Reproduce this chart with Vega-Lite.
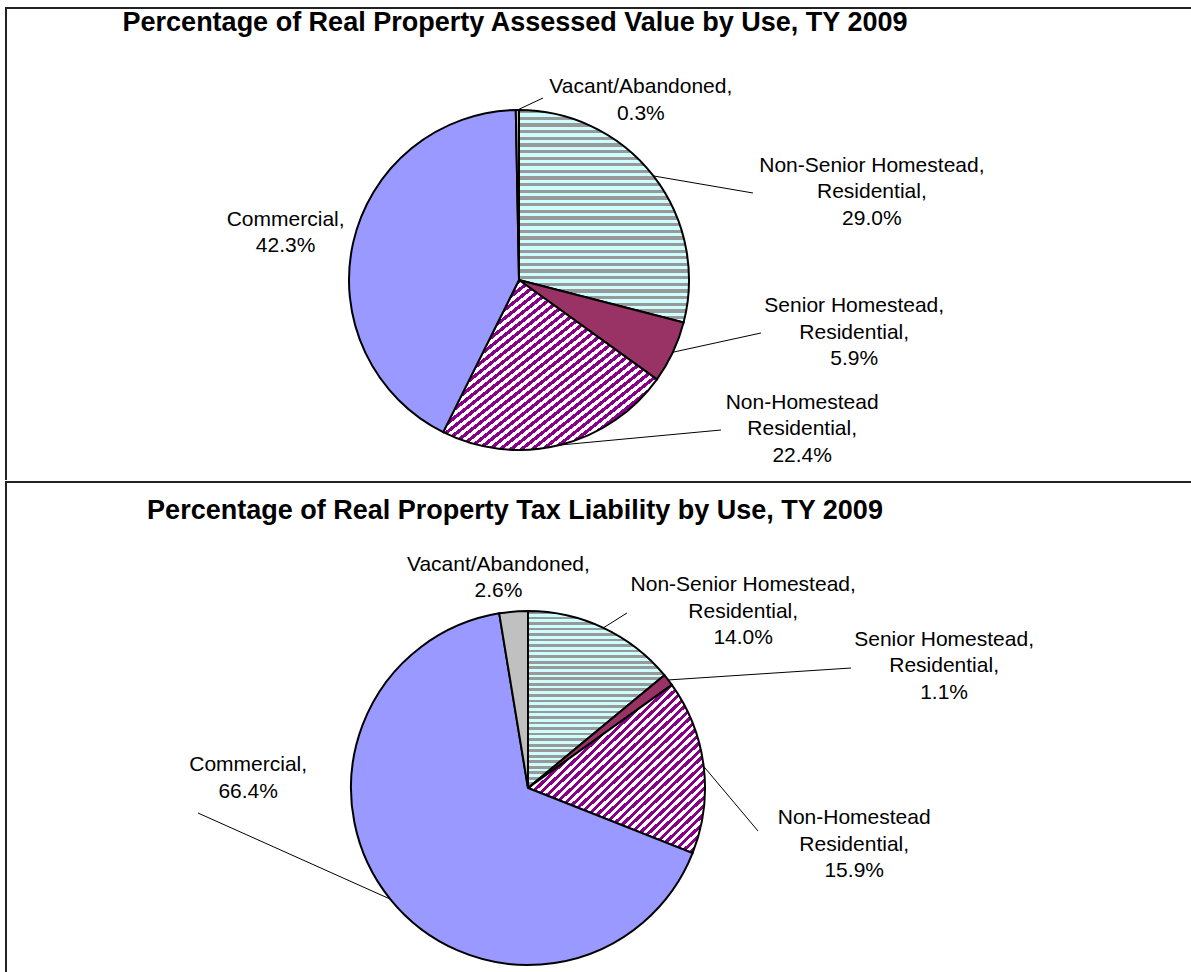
{
"$schema": "https://vega.github.io/schema/vega-lite/v6.json",
"padding": {"left": 5, "top": 7, "right": 0, "bottom": 0},
"background": "white",
"spacing": 0,
"config": {"font": "Liberation Sans", "view": {"stroke": null}},
"datasets": {
"assessed": [
{"order": 1, "cat": "Non-Senior Homestead", "label": "Non-Senior Homestead,|Residential,", "pct": 29.0},
{"order": 2, "cat": "Senior Homestead", "label": "Senior Homestead,|Residential,", "pct": 5.9},
{"order": 3, "cat": "Non-Homestead", "label": "Non-Homestead|Residential,", "pct": 22.4},
{"order": 4, "cat": "Commercial", "label": "Commercial,", "pct": 42.3},
{"order": 5, "cat": "Vacant/Abandoned", "label": "Vacant/Abandoned,", "pct": 0.3}
],
"liability": [
{"order": 1, "cat": "Non-Senior Homestead", "label": "Non-Senior Homestead,|Residential,", "pct": 14.0},
{"order": 2, "cat": "Senior Homestead", "label": "Senior Homestead,|Residential,", "pct": 1.1},
{"order": 3, "cat": "Non-Homestead", "label": "Non-Homestead|Residential,", "pct": 15.9},
{"order": 4, "cat": "Commercial", "label": "Commercial,", "pct": 66.4},
{"order": 5, "cat": "Vacant/Abandoned", "label": "Vacant/Abandoned,", "pct": 2.6}
]
},
"vconcat": [
{
"data": {"name": "assessed"},
"width": 1186,
"height": 472,
"view": {"stroke": "#222", "strokeWidth": 2, "strokeDash": [1186, 1658, 472]},
"transform": [
{"stack": "pct", "groupby": [], "sort": [{"field": "order", "order": "ascending"}], "as": ["s0", "s1"], "offset": "normalize"},
{"calculate": "(datum.s0 + datum.s1) / 2", "as": "mid"},
{"calculate": "datum.label + '|' + format(datum.pct, '.1f') + '%'", "as": "txt"}
],
"layer": [
{
"mark": {"type": "arc", "radius": 170, "stroke": "black", "strokeWidth": 2},
"encoding": {
"x": {"value": 513},
"y": {"value": 272},
"theta": {"field": "s0", "type": "quantitative", "scale": {"domain": [0, 1]}},
"theta2": {"field": "s1"},
"fill": {
"field": "cat", "type": "nominal", "legend": null,
"scale": {"domain": ["Non-Senior Homestead", "Senior Homestead", "Non-Homestead", "Commercial", "Vacant/Abandoned"], "range": ["#ccffff", "#993366", "#880088", "#9999ff", "#c0c0c0"]},
"condition": [
{"test": "datum.cat === 'Non-Senior Homestead'", "value": {"gradient": "linear", "x1": 0, "y1": 0, "x2": 0, "y2": 1, "stops": [
{"offset":0,"color":"#999"},{"offset":0.0156,"color":"#999"},{"offset":0.0156,"color":"#cff"},{"offset":0.0313,"color":"#cff"},
{"offset":0.0313,"color":"#999"},{"offset":0.0469,"color":"#999"},{"offset":0.0469,"color":"#cff"},{"offset":0.0625,"color":"#cff"},
{"offset":0.0625,"color":"#999"},{"offset":0.0781,"color":"#999"},{"offset":0.0781,"color":"#cff"},{"offset":0.0938,"color":"#cff"},
{"offset":0.0938,"color":"#999"},{"offset":0.1094,"color":"#999"},{"offset":0.1094,"color":"#cff"},{"offset":0.125,"color":"#cff"},
{"offset":0.125,"color":"#999"},{"offset":0.1406,"color":"#999"},{"offset":0.1406,"color":"#cff"},{"offset":0.1563,"color":"#cff"},
{"offset":0.1563,"color":"#999"},{"offset":0.1719,"color":"#999"},{"offset":0.1719,"color":"#cff"},{"offset":0.1875,"color":"#cff"},
{"offset":0.1875,"color":"#999"},{"offset":0.2031,"color":"#999"},{"offset":0.2031,"color":"#cff"},{"offset":0.2188,"color":"#cff"},
{"offset":0.2188,"color":"#999"},{"offset":0.2344,"color":"#999"},{"offset":0.2344,"color":"#cff"},{"offset":0.25,"color":"#cff"},
{"offset":0.25,"color":"#999"},{"offset":0.2656,"color":"#999"},{"offset":0.2656,"color":"#cff"},{"offset":0.2813,"color":"#cff"},
{"offset":0.2813,"color":"#999"},{"offset":0.2969,"color":"#999"},{"offset":0.2969,"color":"#cff"},{"offset":0.3125,"color":"#cff"},
{"offset":0.3125,"color":"#999"},{"offset":0.3281,"color":"#999"},{"offset":0.3281,"color":"#cff"},{"offset":0.3438,"color":"#cff"},
{"offset":0.3438,"color":"#999"},{"offset":0.3594,"color":"#999"},{"offset":0.3594,"color":"#cff"},{"offset":0.375,"color":"#cff"},
{"offset":0.375,"color":"#999"},{"offset":0.3906,"color":"#999"},{"offset":0.3906,"color":"#cff"},{"offset":0.4063,"color":"#cff"},
{"offset":0.4063,"color":"#999"},{"offset":0.4219,"color":"#999"},{"offset":0.4219,"color":"#cff"},{"offset":0.4375,"color":"#cff"},
{"offset":0.4375,"color":"#999"},{"offset":0.4531,"color":"#999"},{"offset":0.4531,"color":"#cff"},{"offset":0.4688,"color":"#cff"},
{"offset":0.4688,"color":"#999"},{"offset":0.4844,"color":"#999"},{"offset":0.4844,"color":"#cff"},{"offset":0.5,"color":"#cff"},
{"offset":0.5,"color":"#999"},{"offset":0.5156,"color":"#999"},{"offset":0.5156,"color":"#cff"},{"offset":0.5313,"color":"#cff"},
{"offset":0.5313,"color":"#999"},{"offset":0.5469,"color":"#999"},{"offset":0.5469,"color":"#cff"},{"offset":0.5625,"color":"#cff"},
{"offset":0.5625,"color":"#999"},{"offset":0.5781,"color":"#999"},{"offset":0.5781,"color":"#cff"},{"offset":0.5938,"color":"#cff"},
{"offset":0.5938,"color":"#999"},{"offset":0.6094,"color":"#999"},{"offset":0.6094,"color":"#cff"},{"offset":0.625,"color":"#cff"},
{"offset":0.625,"color":"#999"},{"offset":0.6406,"color":"#999"},{"offset":0.6406,"color":"#cff"},{"offset":0.6563,"color":"#cff"},
{"offset":0.6563,"color":"#999"},{"offset":0.6719,"color":"#999"},{"offset":0.6719,"color":"#cff"},{"offset":0.6875,"color":"#cff"},
{"offset":0.6875,"color":"#999"},{"offset":0.7031,"color":"#999"},{"offset":0.7031,"color":"#cff"},{"offset":0.7188,"color":"#cff"},
{"offset":0.7188,"color":"#999"},{"offset":0.7344,"color":"#999"},{"offset":0.7344,"color":"#cff"},{"offset":0.75,"color":"#cff"},
{"offset":0.75,"color":"#999"},{"offset":0.7656,"color":"#999"},{"offset":0.7656,"color":"#cff"},{"offset":0.7813,"color":"#cff"},
{"offset":0.7813,"color":"#999"},{"offset":0.7969,"color":"#999"},{"offset":0.7969,"color":"#cff"},{"offset":0.8125,"color":"#cff"},
{"offset":0.8125,"color":"#999"},{"offset":0.8281,"color":"#999"},{"offset":0.8281,"color":"#cff"},{"offset":0.8438,"color":"#cff"},
{"offset":0.8438,"color":"#999"},{"offset":0.8594,"color":"#999"},{"offset":0.8594,"color":"#cff"},{"offset":0.875,"color":"#cff"},
{"offset":0.875,"color":"#999"},{"offset":0.8906,"color":"#999"},{"offset":0.8906,"color":"#cff"},{"offset":0.9063,"color":"#cff"},
{"offset":0.9063,"color":"#999"},{"offset":0.9219,"color":"#999"},{"offset":0.9219,"color":"#cff"},{"offset":0.9375,"color":"#cff"},
{"offset":0.9375,"color":"#999"},{"offset":0.9531,"color":"#999"},{"offset":0.9531,"color":"#cff"},{"offset":0.9688,"color":"#cff"},
{"offset":0.9688,"color":"#999"},{"offset":0.9844,"color":"#999"},{"offset":0.9844,"color":"#cff"},{"offset":1,"color":"#cff"}
]}},
{"test": "datum.cat === 'Non-Homestead'", "value": {"gradient": "linear", "x1": 0, "y1": 0, "x2": 1, "y2": 1, "stops": [
{"offset":0,"color":"#808"},{"offset":0.0125,"color":"#808"},{"offset":0.0125,"color":"#fff"},{"offset":0.025,"color":"#fff"},
{"offset":0.025,"color":"#808"},{"offset":0.0375,"color":"#808"},{"offset":0.0375,"color":"#fff"},{"offset":0.05,"color":"#fff"},
{"offset":0.05,"color":"#808"},{"offset":0.0625,"color":"#808"},{"offset":0.0625,"color":"#fff"},{"offset":0.075,"color":"#fff"},
{"offset":0.075,"color":"#808"},{"offset":0.0875,"color":"#808"},{"offset":0.0875,"color":"#fff"},{"offset":0.1,"color":"#fff"},
{"offset":0.1,"color":"#808"},{"offset":0.1125,"color":"#808"},{"offset":0.1125,"color":"#fff"},{"offset":0.125,"color":"#fff"},
{"offset":0.125,"color":"#808"},{"offset":0.1375,"color":"#808"},{"offset":0.1375,"color":"#fff"},{"offset":0.15,"color":"#fff"},
{"offset":0.15,"color":"#808"},{"offset":0.1625,"color":"#808"},{"offset":0.1625,"color":"#fff"},{"offset":0.175,"color":"#fff"},
{"offset":0.175,"color":"#808"},{"offset":0.1875,"color":"#808"},{"offset":0.1875,"color":"#fff"},{"offset":0.2,"color":"#fff"},
{"offset":0.2,"color":"#808"},{"offset":0.2125,"color":"#808"},{"offset":0.2125,"color":"#fff"},{"offset":0.225,"color":"#fff"},
{"offset":0.225,"color":"#808"},{"offset":0.2375,"color":"#808"},{"offset":0.2375,"color":"#fff"},{"offset":0.25,"color":"#fff"},
{"offset":0.25,"color":"#808"},{"offset":0.2625,"color":"#808"},{"offset":0.2625,"color":"#fff"},{"offset":0.275,"color":"#fff"},
{"offset":0.275,"color":"#808"},{"offset":0.2875,"color":"#808"},{"offset":0.2875,"color":"#fff"},{"offset":0.3,"color":"#fff"},
{"offset":0.3,"color":"#808"},{"offset":0.3125,"color":"#808"},{"offset":0.3125,"color":"#fff"},{"offset":0.325,"color":"#fff"},
{"offset":0.325,"color":"#808"},{"offset":0.3375,"color":"#808"},{"offset":0.3375,"color":"#fff"},{"offset":0.35,"color":"#fff"},
{"offset":0.35,"color":"#808"},{"offset":0.3625,"color":"#808"},{"offset":0.3625,"color":"#fff"},{"offset":0.375,"color":"#fff"},
{"offset":0.375,"color":"#808"},{"offset":0.3875,"color":"#808"},{"offset":0.3875,"color":"#fff"},{"offset":0.4,"color":"#fff"},
{"offset":0.4,"color":"#808"},{"offset":0.4125,"color":"#808"},{"offset":0.4125,"color":"#fff"},{"offset":0.425,"color":"#fff"},
{"offset":0.425,"color":"#808"},{"offset":0.4375,"color":"#808"},{"offset":0.4375,"color":"#fff"},{"offset":0.45,"color":"#fff"},
{"offset":0.45,"color":"#808"},{"offset":0.4625,"color":"#808"},{"offset":0.4625,"color":"#fff"},{"offset":0.475,"color":"#fff"},
{"offset":0.475,"color":"#808"},{"offset":0.4875,"color":"#808"},{"offset":0.4875,"color":"#fff"},{"offset":0.5,"color":"#fff"},
{"offset":0.5,"color":"#808"},{"offset":0.5125,"color":"#808"},{"offset":0.5125,"color":"#fff"},{"offset":0.525,"color":"#fff"},
{"offset":0.525,"color":"#808"},{"offset":0.5375,"color":"#808"},{"offset":0.5375,"color":"#fff"},{"offset":0.55,"color":"#fff"},
{"offset":0.55,"color":"#808"},{"offset":0.5625,"color":"#808"},{"offset":0.5625,"color":"#fff"},{"offset":0.575,"color":"#fff"},
{"offset":0.575,"color":"#808"},{"offset":0.5875,"color":"#808"},{"offset":0.5875,"color":"#fff"},{"offset":0.6,"color":"#fff"},
{"offset":0.6,"color":"#808"},{"offset":0.6125,"color":"#808"},{"offset":0.6125,"color":"#fff"},{"offset":0.625,"color":"#fff"},
{"offset":0.625,"color":"#808"},{"offset":0.6375,"color":"#808"},{"offset":0.6375,"color":"#fff"},{"offset":0.65,"color":"#fff"},
{"offset":0.65,"color":"#808"},{"offset":0.6625,"color":"#808"},{"offset":0.6625,"color":"#fff"},{"offset":0.675,"color":"#fff"},
{"offset":0.675,"color":"#808"},{"offset":0.6875,"color":"#808"},{"offset":0.6875,"color":"#fff"},{"offset":0.7,"color":"#fff"},
{"offset":0.7,"color":"#808"},{"offset":0.7125,"color":"#808"},{"offset":0.7125,"color":"#fff"},{"offset":0.725,"color":"#fff"},
{"offset":0.725,"color":"#808"},{"offset":0.7375,"color":"#808"},{"offset":0.7375,"color":"#fff"},{"offset":0.75,"color":"#fff"},
{"offset":0.75,"color":"#808"},{"offset":0.7625,"color":"#808"},{"offset":0.7625,"color":"#fff"},{"offset":0.775,"color":"#fff"},
{"offset":0.775,"color":"#808"},{"offset":0.7875,"color":"#808"},{"offset":0.7875,"color":"#fff"},{"offset":0.8,"color":"#fff"},
{"offset":0.8,"color":"#808"},{"offset":0.8125,"color":"#808"},{"offset":0.8125,"color":"#fff"},{"offset":0.825,"color":"#fff"},
{"offset":0.825,"color":"#808"},{"offset":0.8375,"color":"#808"},{"offset":0.8375,"color":"#fff"},{"offset":0.85,"color":"#fff"},
{"offset":0.85,"color":"#808"},{"offset":0.8625,"color":"#808"},{"offset":0.8625,"color":"#fff"},{"offset":0.875,"color":"#fff"},
{"offset":0.875,"color":"#808"},{"offset":0.8875,"color":"#808"},{"offset":0.8875,"color":"#fff"},{"offset":0.9,"color":"#fff"},
{"offset":0.9,"color":"#808"},{"offset":0.9125,"color":"#808"},{"offset":0.9125,"color":"#fff"},{"offset":0.925,"color":"#fff"},
{"offset":0.925,"color":"#808"},{"offset":0.9375,"color":"#808"},{"offset":0.9375,"color":"#fff"},{"offset":0.95,"color":"#fff"},
{"offset":0.95,"color":"#808"},{"offset":0.9625,"color":"#808"},{"offset":0.9625,"color":"#fff"},{"offset":0.975,"color":"#fff"},
{"offset":0.975,"color":"#808"},{"offset":0.9875,"color":"#808"},{"offset":0.9875,"color":"#fff"},{"offset":1,"color":"#fff"}
]}}
]
}
}
},
{
"transform": [
{"calculate": "513 + 170 * sin(2 * PI * datum.mid)", "as": "sx"},
{"calculate": "272 - 170 * cos(2 * PI * datum.mid)", "as": "sy"},
{"calculate": "datum.cat === 'Vacant/Abandoned' ? 537 : datum.cat === 'Non-Senior Homestead' ? 747 : datum.cat === 'Senior Homestead' ? 755 : datum.cat === 'Non-Homestead' ? 715 : null", "as": "ex"},
{"calculate": "datum.cat === 'Vacant/Abandoned' ? 90 : datum.cat === 'Non-Senior Homestead' ? 185 : datum.cat === 'Senior Homestead' ? 325 : datum.cat === 'Non-Homestead' ? 422 : null", "as": "ey"},
{"filter": "datum.ex != null"}
],
"mark": {"type": "rule", "color": "black", "strokeWidth": 1},
"encoding": {
"x": {"field": "sx", "type": "quantitative", "scale": null, "axis": null},
"y": {"field": "sy", "type": "quantitative", "scale": null, "axis": null},
"x2": {"field": "ex"},
"y2": {"field": "ey"}
}
},
{
"mark": {"type": "text", "font": "Liberation Sans", "fontSize": 21, "lineBreak": "|", "lineHeight": 26.5, "align": "center", "baseline": "middle", "color": "black",
"dx": {"expr": "datum.cat === 'Non-Senior Homestead' ? 171 : datum.cat === 'Senior Homestead' ? 127 : datum.cat === 'Non-Homestead' ? 228 : datum.cat === 'Commercial' ? -9 : 124"},
"dy": {"expr": "datum.cat === 'Non-Senior Homestead' ? 26.5 : datum.cat === 'Senior Homestead' ? -71.5 : datum.cat === 'Non-Homestead' ? -100.5 : datum.cat === 'Commercial' ? -9.5 : 37"}},
"encoding": {
"x": {"value": 513},
"y": {"value": 272},
"theta": {"field": "mid", "type": "quantitative", "stack": null, "scale": {"domain": [0, 1]}},
"radius": {"value": 230},
"text": {"field": "txt"}
}
},
{
"transform": [{"filter": "datum.order === 1"}],
"mark": {"type": "text", "font": "Liberation Sans", "fontSize": 27, "fontWeight": "bold", "align": "center", "baseline": "alphabetic", "color": "black"},
"encoding": {
"x": {"value": 509},
"y": {"value": 23},
"text": {"value": "Percentage of Real Property Assessed Value by Use, TY 2009"}
}
}
]
},
{
"data": {"name": "liability"},
"width": 1186,
"height": 493,
"view": {"stroke": "#222", "strokeWidth": 2, "strokeDash": [1186, 1679, 493]},
"transform": [
{"stack": "pct", "groupby": [], "sort": [{"field": "order", "order": "ascending"}], "as": ["s0", "s1"], "offset": "normalize"},
{"calculate": "(datum.s0 + datum.s1) / 2", "as": "mid"},
{"calculate": "datum.label + '|' + format(datum.pct, '.1f') + '%'", "as": "txt"}
],
"layer": [
{
"mark": {"type": "arc", "radius": 177, "stroke": "black", "strokeWidth": 2},
"encoding": {
"x": {"value": 522},
"y": {"value": 306},
"theta": {"field": "s0", "type": "quantitative", "scale": {"domain": [0, 1]}},
"theta2": {"field": "s1"},
"fill": {
"field": "cat", "type": "nominal", "legend": null,
"scale": {"domain": ["Non-Senior Homestead", "Senior Homestead", "Non-Homestead", "Commercial", "Vacant/Abandoned"], "range": ["#ccffff", "#993366", "#880088", "#9999ff", "#c0c0c0"]},
"condition": [
{"test": "datum.cat === 'Non-Senior Homestead'", "value": {"gradient": "linear", "x1": 0, "y1": 0, "x2": 0, "y2": 1, "stops": [
{"offset":0,"color":"#999"},{"offset":0.0156,"color":"#999"},{"offset":0.0156,"color":"#cff"},{"offset":0.0313,"color":"#cff"},
{"offset":0.0313,"color":"#999"},{"offset":0.0469,"color":"#999"},{"offset":0.0469,"color":"#cff"},{"offset":0.0625,"color":"#cff"},
{"offset":0.0625,"color":"#999"},{"offset":0.0781,"color":"#999"},{"offset":0.0781,"color":"#cff"},{"offset":0.0938,"color":"#cff"},
{"offset":0.0938,"color":"#999"},{"offset":0.1094,"color":"#999"},{"offset":0.1094,"color":"#cff"},{"offset":0.125,"color":"#cff"},
{"offset":0.125,"color":"#999"},{"offset":0.1406,"color":"#999"},{"offset":0.1406,"color":"#cff"},{"offset":0.1563,"color":"#cff"},
{"offset":0.1563,"color":"#999"},{"offset":0.1719,"color":"#999"},{"offset":0.1719,"color":"#cff"},{"offset":0.1875,"color":"#cff"},
{"offset":0.1875,"color":"#999"},{"offset":0.2031,"color":"#999"},{"offset":0.2031,"color":"#cff"},{"offset":0.2188,"color":"#cff"},
{"offset":0.2188,"color":"#999"},{"offset":0.2344,"color":"#999"},{"offset":0.2344,"color":"#cff"},{"offset":0.25,"color":"#cff"},
{"offset":0.25,"color":"#999"},{"offset":0.2656,"color":"#999"},{"offset":0.2656,"color":"#cff"},{"offset":0.2813,"color":"#cff"},
{"offset":0.2813,"color":"#999"},{"offset":0.2969,"color":"#999"},{"offset":0.2969,"color":"#cff"},{"offset":0.3125,"color":"#cff"},
{"offset":0.3125,"color":"#999"},{"offset":0.3281,"color":"#999"},{"offset":0.3281,"color":"#cff"},{"offset":0.3438,"color":"#cff"},
{"offset":0.3438,"color":"#999"},{"offset":0.3594,"color":"#999"},{"offset":0.3594,"color":"#cff"},{"offset":0.375,"color":"#cff"},
{"offset":0.375,"color":"#999"},{"offset":0.3906,"color":"#999"},{"offset":0.3906,"color":"#cff"},{"offset":0.4063,"color":"#cff"},
{"offset":0.4063,"color":"#999"},{"offset":0.4219,"color":"#999"},{"offset":0.4219,"color":"#cff"},{"offset":0.4375,"color":"#cff"},
{"offset":0.4375,"color":"#999"},{"offset":0.4531,"color":"#999"},{"offset":0.4531,"color":"#cff"},{"offset":0.4688,"color":"#cff"},
{"offset":0.4688,"color":"#999"},{"offset":0.4844,"color":"#999"},{"offset":0.4844,"color":"#cff"},{"offset":0.5,"color":"#cff"},
{"offset":0.5,"color":"#999"},{"offset":0.5156,"color":"#999"},{"offset":0.5156,"color":"#cff"},{"offset":0.5313,"color":"#cff"},
{"offset":0.5313,"color":"#999"},{"offset":0.5469,"color":"#999"},{"offset":0.5469,"color":"#cff"},{"offset":0.5625,"color":"#cff"},
{"offset":0.5625,"color":"#999"},{"offset":0.5781,"color":"#999"},{"offset":0.5781,"color":"#cff"},{"offset":0.5938,"color":"#cff"},
{"offset":0.5938,"color":"#999"},{"offset":0.6094,"color":"#999"},{"offset":0.6094,"color":"#cff"},{"offset":0.625,"color":"#cff"},
{"offset":0.625,"color":"#999"},{"offset":0.6406,"color":"#999"},{"offset":0.6406,"color":"#cff"},{"offset":0.6563,"color":"#cff"},
{"offset":0.6563,"color":"#999"},{"offset":0.6719,"color":"#999"},{"offset":0.6719,"color":"#cff"},{"offset":0.6875,"color":"#cff"},
{"offset":0.6875,"color":"#999"},{"offset":0.7031,"color":"#999"},{"offset":0.7031,"color":"#cff"},{"offset":0.7188,"color":"#cff"},
{"offset":0.7188,"color":"#999"},{"offset":0.7344,"color":"#999"},{"offset":0.7344,"color":"#cff"},{"offset":0.75,"color":"#cff"},
{"offset":0.75,"color":"#999"},{"offset":0.7656,"color":"#999"},{"offset":0.7656,"color":"#cff"},{"offset":0.7813,"color":"#cff"},
{"offset":0.7813,"color":"#999"},{"offset":0.7969,"color":"#999"},{"offset":0.7969,"color":"#cff"},{"offset":0.8125,"color":"#cff"},
{"offset":0.8125,"color":"#999"},{"offset":0.8281,"color":"#999"},{"offset":0.8281,"color":"#cff"},{"offset":0.8438,"color":"#cff"},
{"offset":0.8438,"color":"#999"},{"offset":0.8594,"color":"#999"},{"offset":0.8594,"color":"#cff"},{"offset":0.875,"color":"#cff"},
{"offset":0.875,"color":"#999"},{"offset":0.8906,"color":"#999"},{"offset":0.8906,"color":"#cff"},{"offset":0.9063,"color":"#cff"},
{"offset":0.9063,"color":"#999"},{"offset":0.9219,"color":"#999"},{"offset":0.9219,"color":"#cff"},{"offset":0.9375,"color":"#cff"},
{"offset":0.9375,"color":"#999"},{"offset":0.9531,"color":"#999"},{"offset":0.9531,"color":"#cff"},{"offset":0.9688,"color":"#cff"},
{"offset":0.9688,"color":"#999"},{"offset":0.9844,"color":"#999"},{"offset":0.9844,"color":"#cff"},{"offset":1,"color":"#cff"}
]}},
{"test": "datum.cat === 'Non-Homestead'", "value": {"gradient": "linear", "x1": 0, "y1": 0, "x2": 1, "y2": 1, "stops": [
{"offset":0,"color":"#808"},{"offset":0.0125,"color":"#808"},{"offset":0.0125,"color":"#fff"},{"offset":0.025,"color":"#fff"},
{"offset":0.025,"color":"#808"},{"offset":0.0375,"color":"#808"},{"offset":0.0375,"color":"#fff"},{"offset":0.05,"color":"#fff"},
{"offset":0.05,"color":"#808"},{"offset":0.0625,"color":"#808"},{"offset":0.0625,"color":"#fff"},{"offset":0.075,"color":"#fff"},
{"offset":0.075,"color":"#808"},{"offset":0.0875,"color":"#808"},{"offset":0.0875,"color":"#fff"},{"offset":0.1,"color":"#fff"},
{"offset":0.1,"color":"#808"},{"offset":0.1125,"color":"#808"},{"offset":0.1125,"color":"#fff"},{"offset":0.125,"color":"#fff"},
{"offset":0.125,"color":"#808"},{"offset":0.1375,"color":"#808"},{"offset":0.1375,"color":"#fff"},{"offset":0.15,"color":"#fff"},
{"offset":0.15,"color":"#808"},{"offset":0.1625,"color":"#808"},{"offset":0.1625,"color":"#fff"},{"offset":0.175,"color":"#fff"},
{"offset":0.175,"color":"#808"},{"offset":0.1875,"color":"#808"},{"offset":0.1875,"color":"#fff"},{"offset":0.2,"color":"#fff"},
{"offset":0.2,"color":"#808"},{"offset":0.2125,"color":"#808"},{"offset":0.2125,"color":"#fff"},{"offset":0.225,"color":"#fff"},
{"offset":0.225,"color":"#808"},{"offset":0.2375,"color":"#808"},{"offset":0.2375,"color":"#fff"},{"offset":0.25,"color":"#fff"},
{"offset":0.25,"color":"#808"},{"offset":0.2625,"color":"#808"},{"offset":0.2625,"color":"#fff"},{"offset":0.275,"color":"#fff"},
{"offset":0.275,"color":"#808"},{"offset":0.2875,"color":"#808"},{"offset":0.2875,"color":"#fff"},{"offset":0.3,"color":"#fff"},
{"offset":0.3,"color":"#808"},{"offset":0.3125,"color":"#808"},{"offset":0.3125,"color":"#fff"},{"offset":0.325,"color":"#fff"},
{"offset":0.325,"color":"#808"},{"offset":0.3375,"color":"#808"},{"offset":0.3375,"color":"#fff"},{"offset":0.35,"color":"#fff"},
{"offset":0.35,"color":"#808"},{"offset":0.3625,"color":"#808"},{"offset":0.3625,"color":"#fff"},{"offset":0.375,"color":"#fff"},
{"offset":0.375,"color":"#808"},{"offset":0.3875,"color":"#808"},{"offset":0.3875,"color":"#fff"},{"offset":0.4,"color":"#fff"},
{"offset":0.4,"color":"#808"},{"offset":0.4125,"color":"#808"},{"offset":0.4125,"color":"#fff"},{"offset":0.425,"color":"#fff"},
{"offset":0.425,"color":"#808"},{"offset":0.4375,"color":"#808"},{"offset":0.4375,"color":"#fff"},{"offset":0.45,"color":"#fff"},
{"offset":0.45,"color":"#808"},{"offset":0.4625,"color":"#808"},{"offset":0.4625,"color":"#fff"},{"offset":0.475,"color":"#fff"},
{"offset":0.475,"color":"#808"},{"offset":0.4875,"color":"#808"},{"offset":0.4875,"color":"#fff"},{"offset":0.5,"color":"#fff"},
{"offset":0.5,"color":"#808"},{"offset":0.5125,"color":"#808"},{"offset":0.5125,"color":"#fff"},{"offset":0.525,"color":"#fff"},
{"offset":0.525,"color":"#808"},{"offset":0.5375,"color":"#808"},{"offset":0.5375,"color":"#fff"},{"offset":0.55,"color":"#fff"},
{"offset":0.55,"color":"#808"},{"offset":0.5625,"color":"#808"},{"offset":0.5625,"color":"#fff"},{"offset":0.575,"color":"#fff"},
{"offset":0.575,"color":"#808"},{"offset":0.5875,"color":"#808"},{"offset":0.5875,"color":"#fff"},{"offset":0.6,"color":"#fff"},
{"offset":0.6,"color":"#808"},{"offset":0.6125,"color":"#808"},{"offset":0.6125,"color":"#fff"},{"offset":0.625,"color":"#fff"},
{"offset":0.625,"color":"#808"},{"offset":0.6375,"color":"#808"},{"offset":0.6375,"color":"#fff"},{"offset":0.65,"color":"#fff"},
{"offset":0.65,"color":"#808"},{"offset":0.6625,"color":"#808"},{"offset":0.6625,"color":"#fff"},{"offset":0.675,"color":"#fff"},
{"offset":0.675,"color":"#808"},{"offset":0.6875,"color":"#808"},{"offset":0.6875,"color":"#fff"},{"offset":0.7,"color":"#fff"},
{"offset":0.7,"color":"#808"},{"offset":0.7125,"color":"#808"},{"offset":0.7125,"color":"#fff"},{"offset":0.725,"color":"#fff"},
{"offset":0.725,"color":"#808"},{"offset":0.7375,"color":"#808"},{"offset":0.7375,"color":"#fff"},{"offset":0.75,"color":"#fff"},
{"offset":0.75,"color":"#808"},{"offset":0.7625,"color":"#808"},{"offset":0.7625,"color":"#fff"},{"offset":0.775,"color":"#fff"},
{"offset":0.775,"color":"#808"},{"offset":0.7875,"color":"#808"},{"offset":0.7875,"color":"#fff"},{"offset":0.8,"color":"#fff"},
{"offset":0.8,"color":"#808"},{"offset":0.8125,"color":"#808"},{"offset":0.8125,"color":"#fff"},{"offset":0.825,"color":"#fff"},
{"offset":0.825,"color":"#808"},{"offset":0.8375,"color":"#808"},{"offset":0.8375,"color":"#fff"},{"offset":0.85,"color":"#fff"},
{"offset":0.85,"color":"#808"},{"offset":0.8625,"color":"#808"},{"offset":0.8625,"color":"#fff"},{"offset":0.875,"color":"#fff"},
{"offset":0.875,"color":"#808"},{"offset":0.8875,"color":"#808"},{"offset":0.8875,"color":"#fff"},{"offset":0.9,"color":"#fff"},
{"offset":0.9,"color":"#808"},{"offset":0.9125,"color":"#808"},{"offset":0.9125,"color":"#fff"},{"offset":0.925,"color":"#fff"},
{"offset":0.925,"color":"#808"},{"offset":0.9375,"color":"#808"},{"offset":0.9375,"color":"#fff"},{"offset":0.95,"color":"#fff"},
{"offset":0.95,"color":"#808"},{"offset":0.9625,"color":"#808"},{"offset":0.9625,"color":"#fff"},{"offset":0.975,"color":"#fff"},
{"offset":0.975,"color":"#808"},{"offset":0.9875,"color":"#808"},{"offset":0.9875,"color":"#fff"},{"offset":1,"color":"#fff"}
]}}
]
}
}
},
{
"transform": [
{"calculate": "522 + 177 * sin(2 * PI * datum.mid)", "as": "sx"},
{"calculate": "306 - 177 * cos(2 * PI * datum.mid)", "as": "sy"},
{"calculate": "datum.cat === 'Non-Senior Homestead' ? 621 : datum.cat === 'Senior Homestead' ? 845 : datum.cat === 'Non-Homestead' ? 752 : datum.cat === 'Commercial' ? 192 : null", "as": "ex"},
{"calculate": "datum.cat === 'Non-Senior Homestead' ? 131 : datum.cat === 'Senior Homestead' ? 186 : datum.cat === 'Non-Homestead' ? 349 : datum.cat === 'Commercial' ? 331 : null", "as": "ey"},
{"filter": "datum.ex != null"}
],
"mark": {"type": "rule", "color": "black", "strokeWidth": 1},
"encoding": {
"x": {"field": "sx", "type": "quantitative", "scale": null, "axis": null},
"y": {"field": "sy", "type": "quantitative", "scale": null, "axis": null},
"x2": {"field": "ex"},
"y2": {"field": "ey"}
}
},
{
"mark": {"type": "text", "font": "Liberation Sans", "fontSize": 21, "lineBreak": "|", "lineHeight": 26.5, "align": "center", "baseline": "middle", "color": "black",
"dx": {"expr": "datum.cat === 'Non-Senior Homestead' ? 113 : datum.cat === 'Senior Homestead' ? 226 : datum.cat === 'Non-Homestead' ? 88 : datum.cat === 'Commercial' ? -93 : -10"},
"dy": {"expr": "datum.cat === 'Non-Senior Homestead' ? 14.5 : datum.cat === 'Senior Homestead' ? -1.5 : datum.cat === 'Non-Homestead' ? 59.5 : datum.cat === 'Commercial' ? -173.5 : 16"}},
"encoding": {
"x": {"value": 522},
"y": {"value": 306},
"theta": {"field": "mid", "type": "quantitative", "stack": null, "scale": {"domain": [0, 1]}},
"radius": {"value": 240},
"text": {"field": "txt"}
}
},
{
"transform": [{"filter": "datum.order === 1"}],
"mark": {"type": "text", "font": "Liberation Sans", "fontSize": 27, "fontWeight": "bold", "align": "center", "baseline": "alphabetic", "color": "black"},
"encoding": {
"x": {"value": 509},
"y": {"value": 37},
"text": {"value": "Percentage of Real Property Tax Liability by Use, TY 2009"}
}
}
]
}
]
}
